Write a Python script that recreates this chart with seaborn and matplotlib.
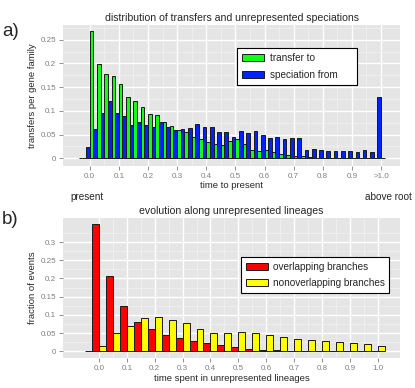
import numpy as np
import pandas as pd
import matplotlib
matplotlib.use("Agg")
import matplotlib.pyplot as plt
import seaborn as sns

# panel a: bins of width 0.025, last one holds everything above the root
a_bins = np.round(np.arange(-0.0375, 1.02, 0.025), 4)
transfer_to = [np.nan, 0.0, 0.269, 0.198, 0.177, 0.173, 0.157, 0.130, 0.1215,
               0.108, 0.0934, 0.0913, 0.0772, 0.0674, 0.059, 0.0548, 0.0456,
               0.0414, 0.0351, 0.031, 0.028, 0.0365, 0.040, 0.0302, 0.0183,
               0.0155, 0.0169, 0.0126, 0.0098, 0.007, 0.0056, 0.005, 0.002,
               0.001, 0.001, 0.0005, 0.0005, 0.0005, 0.0005, 0.0005, 0.0005,
               0.0, 0.0]
speciation_from = [0.0, 0.023, 0.061, 0.095, 0.1215, 0.0955, 0.090, 0.0695,
                   0.076, 0.070, 0.0667, 0.0758, 0.0653, 0.0597, 0.0618, 0.0632,
                   0.073, 0.0667, 0.0653, 0.056, 0.0555, 0.044, 0.0569, 0.0527,
                   0.0583, 0.0492, 0.0435, 0.045, 0.0407, 0.0428, 0.042, 0.0169,
                   0.0197, 0.0176, 0.0162, 0.0162, 0.0162, 0.0162, 0.014, 0.0169,
                   0.0126, 0.129, np.nan]
a_ticks = [0.0, 0.1, 0.2, 0.3, 0.4, 0.5, 0.6, 0.7, 0.8, 0.9, 1.0]
a_ticklabels = ["0.0", "0.1", "0.2", "0.3", "0.4", "0.5", "0.6", "0.7", "0.8", "0.9", ">1.0"]
a_yticks = [0, 0.05, 0.1, 0.15, 0.2, 0.25]
a_yticklabels = ["0", "0.05", "0.1", "0.15", "0.2", "0.25"]

# panel b: bins of width 0.05
b_bins = np.round(np.arange(-0.05, 1.01, 0.05), 3)
overlapping = [np.nan, 0.350, 0.207, 0.1235, 0.081, 0.060, 0.046, 0.036, 0.029,
               0.022, 0.0165, 0.011, 0.0073, 0.0046, 0.003, 0.0015, 0.001,
               0.0007, 0.0005, 0.0003, 0.0002, 0.0001]
nonoverlapping = [0.0, 0.0155, 0.051, 0.0695, 0.0906, 0.094, 0.086, 0.077, 0.060,
                  0.050, 0.050, 0.052, 0.051, 0.046, 0.040, 0.034, 0.030, 0.027,
                  0.026, 0.022, 0.019, 0.0146]
b_ticks = [0.0, 0.1, 0.2, 0.3, 0.4, 0.5, 0.6, 0.7, 0.8, 0.9, 1.0]
b_ticklabels = ["0.0", "0.1", "0.2", "0.3", "0.4", "0.5", "0.6", "0.7", "0.8", "0.9", "1.0"]
b_yticks = [0, 0.05, 0.1, 0.15, 0.2, 0.25, 0.3]
b_yticklabels = ["0", "0.05", "0.1", "0.15", "0.2", "0.25", "0.3"]

sns.set_style("darkgrid", {"axes.facecolor": "#E5E5E5", "grid.color": "white"})
plt.rcParams["font.family"] = ["Liberation Sans", "DejaVu Sans"]

#Long form tables

df_a = pd.DataFrame({
    "time": np.concatenate([a_bins, a_bins]),
    "value": transfer_to + speciation_from,
    "series": ["transfer to"] * len(a_bins) + ["speciation from"] * len(a_bins),
}).dropna()
df_b = pd.DataFrame({
    "time": np.concatenate([b_bins, b_bins]),
    "value": overlapping + nonoverlapping,
    "series": ["overlapping branches"] * len(b_bins) + ["nonoverlapping branches"] * len(b_bins),
}).dropna()

fig = plt.figure(figsize=(4.15, 3.88), dpi=100)
ax_a = fig.add_axes([63.3 / 415, 1 - 165.7 / 388, 336.7 / 415, 140.7 / 388])
ax_b = fig.add_axes([63.3 / 415, 1 - 358.3 / 388, 336.7 / 415, 140.6 / 388])

sns.barplot(
    data=df_a, x="time", y="value", hue="series",
    hue_order=["transfer to", "speciation from"],
    palette=["#11FF11", "#0022FF"], saturation=1,
    native_scale=True, width=1.0, gap=0, errorbar=None,
    edgecolor="#1a1a1a", linewidth=0.7, ax=ax_a
)
sns.barplot(
    data=df_b, x="time", y="value", hue="series",
    hue_order=["overlapping branches", "nonoverlapping branches"],
    palette=["#FF0000", "#FFFF00"], saturation=1,
    native_scale=True, width=1.0, gap=0, errorbar=None,
    edgecolor="#1a1a1a", linewidth=0.7, ax=ax_b
)


def style_axes(ax, xlim, ylim, xticks, xlabels, yticks, ylabels,
               title, xlabel, ylabel, legend_box):
    ax.set_xlim(*xlim)
    ax.set_ylim(*ylim)
    ax.set_xticks(xticks)
    ax.set_xticklabels(xlabels)
    ax.set_yticks(yticks)
    ax.set_yticklabels(ylabels)
    ax.set_xticks([t + 0.05 for t in xticks[:-1]], minor=True)
    ax.set_yticks([t + 0.025 for t in yticks], minor=True)
    ax.grid(which="major", color="white", linewidth=1.0)
    ax.grid(which="minor", color="#F2F2F2", linewidth=0.5)
    ax.set_axisbelow(True)
    ax.tick_params(which="major", direction="out", length=3, width=0.6,
                   color="#7F7F7F", labelcolor="#7F7F7F", labelsize=5.8, pad=2,
                   bottom=True, left=True)
    ax.tick_params(which="minor", length=0)
    for s in ax.spines.values():
        s.set_visible(False)
    ax.set_title(title, fontsize=7.6, pad=3)
    ax.set_xlabel(xlabel, fontsize=6.8, labelpad=1)
    ax.set_ylabel(ylabel, fontsize=6.8, labelpad=3)
    handles, labels = ax.get_legend_handles_labels()
    x0, ytop, w = legend_box
    leg = ax.legend(handles, labels, loc="upper left",
                    bbox_to_anchor=(x0, ytop - 0.5, w, 0.5), mode="expand",
                    borderaxespad=0, frameon=True, fancybox=False,
                    edgecolor="black", facecolor="white", framealpha=1,
                    fontsize=7.2, handlelength=2.2, handleheight=0.7,
                    labelspacing=0.65, borderpad=0.5, handletextpad=0.55)
    leg.get_frame().set_linewidth(0.8)


style_axes(ax_a, (-0.0906, 1.065), (-0.0156, 0.281), a_ticks, a_ticklabels,
           a_yticks, a_yticklabels,
           "distribution of transfers and unrepresented speciations",
           "time to present", "transfers per gene family", (0.517, 0.834, 0.355))
style_axes(ax_b, (-0.128, 1.080), (-0.0192, 0.3667), b_ticks, b_ticklabels,
           b_yticks, b_yticklabels,
           "evolution along unrepresented lineages",
           "time spent in unrepresented lineages", "fraction of events",
           (0.527, 0.7226, 0.441))

fig.text(2 / 415, 1 - 32 / 388, "a)", fontsize=13.5, ha="left", va="center")
fig.text(2 / 415, 1 - 219 / 388, "b)", fontsize=13.5, ha="left", va="center")
fig.text(86.7 / 415, 1 - 197 / 388, "present", fontsize=7.2, ha="center", va="center")
fig.text(388 / 415, 1 - 197 / 388, "above root", fontsize=7.2, ha="center", va="center")

plt.savefig("out.png", dpi=100)
